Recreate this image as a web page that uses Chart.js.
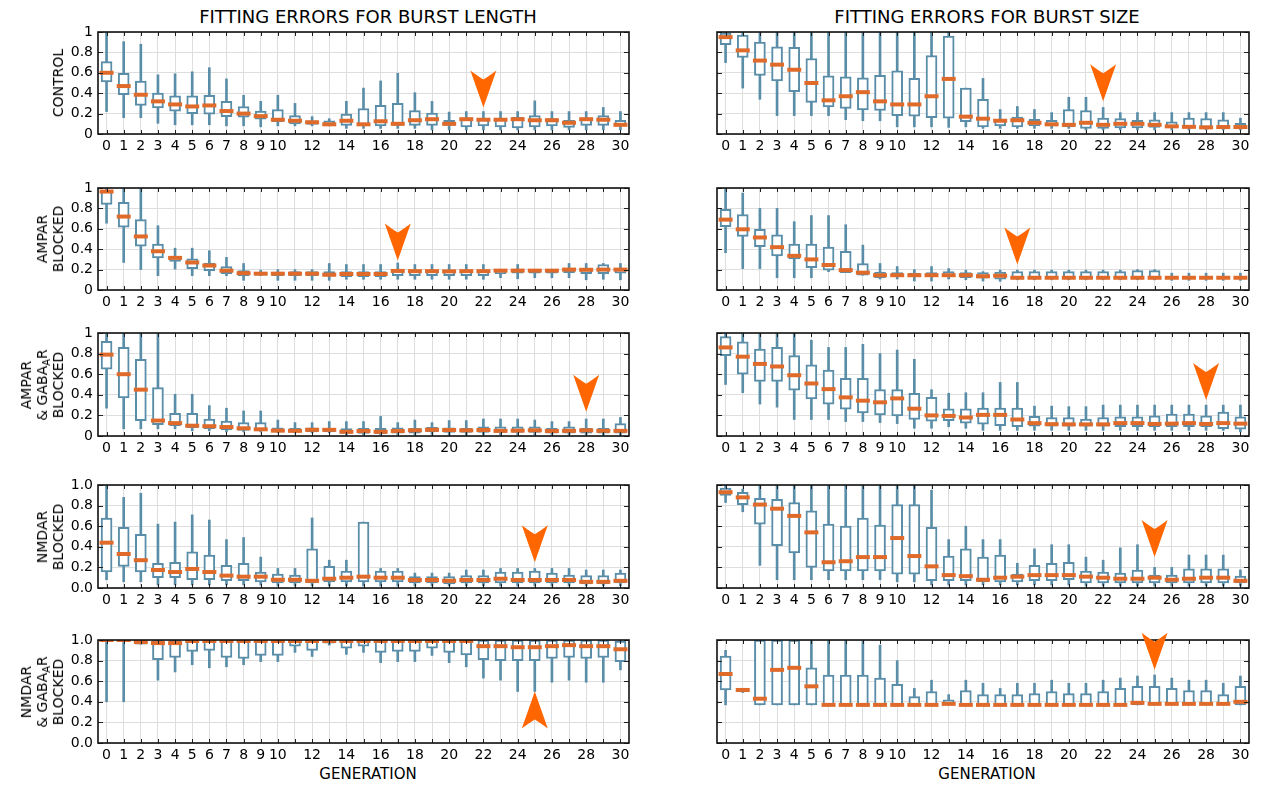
<!DOCTYPE html>
<html>
<head>
<meta charset="utf-8">
<script src="https://cdn.jsdelivr.net/npm/chart.js@4.4.1/dist/chart.umd.min.js"></script>
<style>
  body { margin: 0; background: #fff; font-family: "DejaVu Sans", sans-serif; color: #000; }
  #page { position: relative; width: 1264px; height: 787px; overflow: hidden; }
  #page canvas { position: absolute; }
  .title { position: absolute; top: 6px; width: 540px; font-size: 18px; line-height: 22px; text-align: center; }
  .xlab { position: absolute; top: 765px; width: 540px; font-size: 15px; line-height: 18px; text-align: center; }
  .ylab { position: absolute; font-size: 14px; line-height: 16px; text-align: center; white-space: nowrap;
          transform: translate(-50%, -50%) rotate(-90deg); }
  .ylab sub { font-size: 10px; vertical-align: -3px; line-height: 0; }
</style>
</head>
<body>
<div id="page">
  <div class="title" style="left:98px">FITTING ERRORS FOR BURST LENGTH</div>
  <div class="title" style="left:717px">FITTING ERRORS FOR BURST SIZE</div>
  <div class="xlab" style="left:98px">GENERATION</div>
  <div class="xlab" style="left:717px">GENERATION</div>
</div>
<script>
const generations = [0, 1, 2, 3, 4, 5, 6, 7, 8, 9, 10, 11, 12, 13, 14, 15, 16, 17, 18, 19, 20,
  21, 22, 23, 24, 25, 26, 27, 28, 29, 30];
const yTicks = [0, 0.2, 0.4, 0.6, 0.8, 1];

// one entry per generation: [min, q1, median, q3, max]
const controlLength = [
  [.22, .51, .60, .71, 1], [.16, .385, .47, .595, .905], [.16, .28, .385, .52, .88], [.105, .255, .32, .40, .58],
  [.09, .225, .29, .375, .59], [.09, .20, .27, .375, .61], [.09, .195, .28, .38, .65], [.08, .17, .225, .32, .54],
  [.08, .165, .20, .27, .38], [.07, .145, .175, .225, .32], [.08, .12, .14, .24, .38], [.08, .10, .13, .18, .30],
  [.08, .095, .115, .13, .17], [.08, .085, .095, .13, .15], [.055, .085, .13, .195, .32], [.055, .085, .095, .25, .45],
  [.055, .08, .125, .28, .52], [.055, .085, .10, .30, .595], [.055, .085, .135, .23, .405], [.04, .085, .145, .205, .32],
  [.04, .085, .10, .135, .215], [.04, .07, .145, .155, .22], [.04, .08, .14, .15, .22], [.04, .07, .14, .15, .22],
  [.04, .06, .145, .165, .22], [.04, .07, .135, .18, .325], [.04, .08, .135, .15, .22], [.04, .065, .11, .135, .22],
  [.04, .085, .145, .15, .22], [.04, .085, .14, .18, .26], [.04, .085, .09, .135, .22]
];
const controlSize = [
  [.70, .875, .95, .99, 1], [.45, .75, .82, .97, 1], [.34, .575, .72, .90, 1], [.18, .52, .68, .855, 1],
  [.18, .415, .63, .85, 1], [.18, .31, .50, .74, 1], [.18, .265, .33, .57, 1], [.14, .25, .37, .56, 1],
  [.13, .235, .41, .55, 1], [.13, .23, .32, .575, 1], [.07, .18, .29, .62, 1], [.07, .175, .29, .545, 1],
  [.07, .16, .37, .77, 1], [.065, .155, .54, .96, 1], [.07, .12, .17, .45, .45], [.055, .07, .15, .34, .545],
  [.055, .08, .13, .145, .24], [.055, .07, .135, .165, .27], [.055, .08, .11, .145, .24], [.055, .08, .095, .135, .21],
  [.055, .07, .09, .24, .36], [.04, .055, .11, .23, .36], [.04, .055, .09, .155, .26], [.04, .06, .10, .15, .21],
  [.04, .06, .10, .135, .21], [.04, .065, .09, .14, .21], [.04, .065, .075, .12, .21], [.04, .065, .07, .155, .21],
  [.04, .065, .065, .15, .21], [.04, .065, .068, .14, .21], [.04, .065, .068, .105, .155]
];
const ampaLength = [
  [.655, .84, .965, .975, 1], [.27, .615, .72, .86, 1], [.20, .43, .525, .69, 1], [.14, .315, .38, .45, .63],
  [.205, .28, .315, .33, .41], [.14, .21, .27, .305, .41], [.14, .19, .24, .265, .385], [.14, .16, .19, .23, .32],
  [.095, .14, .165, .19, .26], [.14, .145, .16, .17, .195], [.095, .14, .16, .175, .20], [.095, .14, .16, .18, .20],
  [.095, .14, .16, .18, .20], [.095, .135, .15, .18, .26], [.105, .13, .157, .18, .25], [.105, .13, .157, .18, .25],
  [.105, .13, .157, .18, .25], [.105, .14, .187, .19, .265], [.105, .14, .185, .19, .25], [.105, .14, .185, .19, .25],
  [.105, .14, .183, .19, .25], [.105, .14, .185, .19, .25], [.105, .14, .185, .19, .25], [.12, .16, .19, .195, .20],
  [.11, .165, .19, .205, .25], [.12, .165, .19, .195, .20], [.12, .165, .19, .195, .20], [.12, .17, .20, .21, .26],
  [.10, .16, .198, .215, .26], [.105, .16, .20, .25, .26], [.10, .165, .20, .21, .26]
];
const ampaSize = [
  [.365, .62, .69, .79, 1], [.21, .525, .595, .74, .95], [.21, .425, .515, .595, .80], [.12, .335, .42, .54, .80],
  [.12, .305, .335, .45, .67], [.12, .22, .30, .45, .73], [.18, .195, .245, .42, .73], [.17, .17, .195, .38, .64],
  [.145, .145, .17, .26, .44], [.108, .12, .145, .175, .26], [.108, .13, .145, .17, .23], [.088, .13, .145, .165, .20],
  [.088, .13, .145, .17, .23], [.108, .13, .145, .18, .21], [.10, .12, .145, .17, .195], [.088, .115, .135, .17, .18],
  [.085, .105, .14, .175, .195], [.10, .118, .12, .18, .195], [.10, .118, .12, .18, .195], [.10, .118, .12, .18, .195],
  [.10, .118, .12, .18, .195], [.10, .118, .12, .18, .195], [.10, .118, .12, .18, .195], [.10, .118, .12, .18, .195],
  [.10, .118, .12, .19, .20], [.10, .118, .12, .19, .20], [.095, .118, .12, .122, .165], [.095, .118, .12, .122, .165],
  [.095, .118, .12, .122, .165], [.095, .118, .12, .122, .165], [.095, .118, .12, .122, .165]
];
const ampaGabaLength = [
  [.27, .65, .79, .92, 1], [.07, .37, .60, .86, 1], [.07, .15, .45, .745, 1], [.07, .11, .15, .47, 1],
  [.07, .10, .125, .22, .405], [.05, .08, .10, .22, .405], [.05, .07, .095, .165, .295], [.04, .06, .087, .145, .27],
  [.04, .055, .075, .13, .243], [.04, .055, .065, .13, .243], [.032, .04, .052, .08, .155], [.03, .04, .05, .075, .13],
  [.03, .04, .06, .08, .13], [.03, .04, .06, .075, .14], [.01, .025, .041, .072, .14], [.01, .025, .048, .075, .14],
  [.01, .022, .041, .075, .19], [.01, .028, .048, .08, .13], [.01, .028, .055, .075, .155], [.015, .04, .06, .085, .13],
  [.01, .035, .058, .08, .15], [.01, .035, .055, .075, .15], [.01, .035, .058, .09, .165], [.01, .035, .05, .09, .165],
  [.01, .035, .052, .09, .165], [.01, .035, .055, .09, .155], [.01, .028, .048, .075, .14], [.01, .028, .05, .09, .14],
  [.01, .028, .055, .075, .165], [.01, .028, .05, .075, .165], [.01, .028, .05, .12, .18]
];
const ampaGabaSize = [
  [.50, .78, .86, .965, 1], [.42, .60, .77, .915, 1], [.31, .53, .70, .845, 1], [.28, .53, .675, .86, 1],
  [.16, .445, .59, .78, 1], [.16, .36, .51, .69, .93], [.16, .31, .455, .64, .86], [.14, .26, .375, .56, .86],
  [.14, .225, .343, .56, .89], [.13, .205, .327, .45, .80], [.12, .195, .365, .45, .835], [.075, .16, .265, .415, .745],
  [.075, .145, .20, .375, .45], [.09, .15, .195, .265, .415], [.075, .125, .18, .265, .42], [.055, .115, .205, .27, .42],
  [.055, .10, .205, .27, .52], [.055, .09, .16, .27, .52], [.055, .095, .125, .19, .29], [.055, .095, .115, .18, .29],
  [.055, .095, .113, .18, .285], [.055, .095, .113, .165, .285], [.055, .095, .113, .18, .30], [.055, .09, .125, .185, .30],
  [.055, .09, .125, .185, .30], [.055, .09, .117, .197, .30], [.055, .09, .12, .214, .30], [.055, .09, .125, .214, .30],
  [.055, .09, .117, .197, .30], [.055, .072, .125, .233, .30], [.04, .067, .12, .185, .30]
];
const nmdaLength = [
  [.08, .155, .44, .68, 1], [.06, .21, .33, .59, .88], [.06, .155, .27, .52, .92], [.03, .10, .175, .24, .62],
  [.03, .10, .155, .25, .64], [.03, .08, .185, .35, .71], [.03, .08, .155, .32, .66], [.03, .07, .12, .22, .47],
  [.03, .07, .11, .24, .49], [.03, .06, .11, .155, .30], [.02, .05, .08, .135, .19], [.02, .05, .08, .125, .19],
  [.02, .05, .07, .38, .68], [.02, .06, .09, .21, .27], [.02, .06, .10, .165, .27], [.02, .06, .11, .64, .64],
  [.02, .06, .10, .165, .19], [.02, .06, .10, .165, .19], [.02, .05, .078, .11, .145], [.02, .05, .078, .11, .145],
  [.02, .04, .07, .11, .145], [.02, .05, .078, .12, .175], [.02, .05, .078, .12, .175], [.02, .05, .09, .155, .19],
  [.02, .05, .078, .155, .19], [.02, .05, .078, .165, .19], [.02, .05, .078, .145, .19], [.02, .05, .078, .125, .19],
  [.02, .04, .06, .12, .175], [.02, .04, .06, .12, .175], [.02, .05, .07, .145, .175]
];
const nmdaSize = [
  [.83, .90, .93, .97, 1], [.74, .81, .88, .93, .96], [.22, .62, .81, .87, 1], [.08, .41, .77, .86, 1],
  [.08, .34, .70, .83, 1], [.08, .20, .54, .75, 1], [.08, .165, .25, .62, 1], [.08, .165, .26, .60, 1],
  [.08, .165, .30, .68, 1], [.08, .165, .30, .61, 1], [.06, .135, .485, .81, 1], [.06, .135, .31, .81, 1],
  [.03, .07, .21, .59, .95], [.03, .07, .125, .31, .47], [.03, .07, .115, .38, .60], [.03, .06, .08, .30, .47],
  [.03, .06, .10, .32, .47], [.03, .06, .11, .135, .24], [.03, .07, .125, .22, .38], [.03, .07, .125, .24, .42],
  [.03, .08, .125, .25, .42], [.02, .05, .11, .165, .30], [.02, .05, .10, .155, .27], [.02, .05, .09, .145, .39],
  [.02, .05, .09, .175, .42], [.02, .05, .10, .125, .20], [.02, .05, .08, .125, .20], [.02, .05, .09, .185, .32],
  [.02, .05, .10, .185, .32], [.02, .05, .10, .185, .32], [.02, .05, .07, .115, .175]
];
const nmdaGabaLength = [
  [.40, .99, 1, 1, 1], [.40, .99, 1, 1, 1], [.96, .96, .98, 1, 1], [.61, .81, .97, 1, 1],
  [.69, .83, .97, 1, 1], [.76, .89, .99, 1, 1], [.73, .90, .99, 1, 1], [.74, .83, .99, 1, 1],
  [.76, .82, .99, 1, 1], [.79, .85, .99, 1, 1], [.79, .85, .99, 1, 1], [.88, .94, .99, 1, 1],
  [.84, .90, .99, 1, 1], [.95, .97, .99, 1, 1], [.86, .92, .99, 1, 1], [.88, .94, .99, 1, 1],
  [.78, .88, .99, 1, 1], [.79, .89, .99, 1, 1], [.79, .89, .99, 1, 1], [.85, .92, .99, 1, 1],
  [.78, .88, .99, 1, 1], [.74, .855, .99, 1, 1], [.63, .81, .94, 1, 1], [.61, .80, .94, 1, 1],
  [.50, .80, .93, 1, 1], [.50, .80, .93, 1, 1], [.59, .82, .94, 1, 1], [.61, .83, .95, 1, 1],
  [.59, .82, .94, 1, 1], [.59, .83, .94, 1, 1], [.71, .79, .91, .99, 1]
];
const nmdaGabaSize = [
  [.37, .515, .67, .845, .90], [.49, .495, .515, .525, .53], [.37, .37, .43, 1, 1], [.37, .37, .71, 1, 1],
  [.37, .37, .73, 1, 1], [.37, .37, .55, .73, 1], [.37, .37, .37, .66, 1], [.37, .37, .37, .66, 1],
  [.37, .37, .37, .66, 1], [.37, .37, .37, .63, .95], [.37, .37, .37, .57, .80], [.37, .37, .37, .45, .53],
  [.37, .37, .37, .50, .61], [.37, .37, .38, .42, .47], [.37, .37, .37, .51, .61], [.37, .37, .37, .47, .58],
  [.37, .37, .37, .47, .53], [.37, .37, .37, .47, .58], [.37, .37, .37, .48, .58], [.37, .37, .37, .50, .61],
  [.37, .37, .37, .48, .58], [.37, .37, .37, .48, .58], [.37, .37, .37, .50, .61], [.37, .37, .37, .53, .63],
  [.37, .37, .39, .55, .65], [.37, .37, .38, .55, .66], [.37, .37, .38, .53, .63], [.37, .37, .38, .51, .61],
  [.37, .37, .38, .51, .61], [.37, .37, .38, .47, .58], [.37, .37, .40, .55, .65]
];

// highlighted generation per panel (tip of the orange marker)
const markerGen = [22, 22, 17, 17, 28, 28, 25, 25, 25, 25];
const markerTip = [0.26, 0.32, 0.29, 0.25, 0.235, 0.35, 0.25, 0.30, 0.50, 0.71];
const markerUp = [false, false, false, false, false, false, false, false, true, false];

const rowLabels = [
  ['CONTROL'],
  ['AMPAR', 'BLOCKED'],
  ['AMPAR', '&amp; GABA<sub>A</sub>R', 'BLOCKED'],
  ['NMDAR', 'BLOCKED'],
  ['NMDAR', '&amp; GABA<sub>A</sub>R', 'BLOCKED']
];

const panelStats = [controlLength, controlSize, ampaLength, ampaSize, ampaGabaLength, ampaGabaSize,
  nmdaLength, nmdaSize, nmdaGabaLength, nmdaGabaSize];

const rowTop = [32, 188, 333, 485, 640];
const rowHeight = [102, 102, 103, 103, 103];
const BOX = '#5a8ea8';
const MEDIAN = '#e06a2a';
const MARKER = '#ff6600';

Chart.defaults.font.family = '"DejaVu Sans", sans-serif';
Chart.defaults.font.size = 14;
Chart.defaults.color = '#000';

const framePlugin = {
  id: 'frame',
  afterDraw(chart, args, opts) {
    const { ctx, chartArea: a, scales: { x, y } } = chart;
    ctx.save();
    // inward tick marks on all four sides
    ctx.strokeStyle = '#222';
    ctx.lineWidth = 1;
    ctx.beginPath();
    x.ticks.forEach(t => {
      const px = Math.round(x.getPixelForValue(t.value)) + 0.5;
      ctx.moveTo(px, a.top); ctx.lineTo(px, a.top + 4);
      ctx.moveTo(px, a.bottom); ctx.lineTo(px, a.bottom - 4);
    });
    y.ticks.forEach(t => {
      const py = Math.round(y.getPixelForValue(t.value)) + 0.5;
      ctx.moveTo(a.left, py); ctx.lineTo(a.left + 5, py);
      ctx.moveTo(a.right, py); ctx.lineTo(a.right - 5, py);
    });
    ctx.stroke();
    ctx.strokeStyle = '#111';
    ctx.lineWidth = 1.6;
    ctx.strokeRect(a.left, a.top, a.right - a.left, a.bottom - a.top);

    // orange arrowhead pointing at the chosen generation
    const px = x.getPixelForValue(opts.gen);
    const py = y.getPixelForValue(opts.tip);
    const s = opts.up ? -1 : 1;
    ctx.fillStyle = MARKER;
    ctx.beginPath();
    ctx.moveTo(px, py);
    ctx.lineTo(px + 13, py - s * 37);
    ctx.quadraticCurveTo(px + 5, py - s * 31, px, py - s * 28);
    ctx.quadraticCurveTo(px - 5, py - s * 31, px - 13, py - s * 37);
    ctx.closePath();
    ctx.fill();
    ctx.restore();
  }
};

function fmtY(v, decimals) {
  if (!decimals && (v === 0 || v === 1)) return String(v);
  return v.toFixed(1);
}

const page = document.getElementById('page');

panelStats.forEach((stats, i) => {
  const row = Math.floor(i / 2);
  const col = i % 2;
  const left = col === 0 ? 40 : 660;
  const axisW = col === 0 ? 58 : 57;
  const canvas = document.createElement('canvas');
  canvas.width = 600;
  canvas.height = rowHeight[row] + 14 + 26;
  canvas.style.left = left + 'px';
  canvas.style.top = (rowTop[row] - 14) + 'px';
  page.appendChild(canvas);

  const whiskers = generations.map((g, k) => ({ x: g, y: [stats[k][0], stats[k][4]] }));
  const boxes = generations.map((g, k) => ({ x: g, y: [stats[k][1], stats[k][3]] }));
  const medians = generations.map((g, k) => ({ x: g, y: stats[k][2] }));
  const decimals = row >= 3;

  new Chart(canvas, {
    type: 'bar',
    data: {
      datasets: [
        {
          type: 'line', data: medians, showLine: false, order: 0,
          pointStyle: 'line', pointRadius: 7, pointHoverRadius: 7,
          pointBorderWidth: 4, pointHoverBorderWidth: 4,
          pointBorderColor: MEDIAN, borderColor: MEDIAN
        },
        {
          data: boxes, order: 1, grouped: false, barThickness: 11,
          backgroundColor: '#ffffff', borderColor: BOX, borderWidth: 2, borderSkipped: false
        },
        {
          data: whiskers, order: 2, grouped: false, barThickness: 2,
          backgroundColor: BOX, borderWidth: 0
        }
      ]
    },
    options: {
      responsive: false,
      animation: false,
      events: [],
      layout: { padding: { top: 14, right: 4, bottom: 0, left: 0 } },
      plugins: {
        legend: { display: false },
        tooltip: { enabled: false },
        frame: { gen: markerGen[i], tip: markerTip[i], up: markerUp[i] }
      },
      scales: {
        x: {
          type: 'linear', min: -0.5, max: 30.5, offset: false,
          grid: { color: '#dedede', lineWidth: 1, drawTicks: false, offset: false },
          border: { display: false },
          afterBuildTicks: s => { s.ticks = generations.map(v => ({ value: v })); },
          afterFit: s => { s.height = 26; },
          ticks: {
            autoSkip: false, maxRotation: 0, padding: 4,
            callback: v => (v <= 10 || v % 2 === 0) ? String(v) : ''
          }
        },
        y: {
          min: 0, max: 1,
          grid: { color: '#dedede', lineWidth: 1, drawTicks: false },
          border: { display: false },
          afterBuildTicks: s => { s.ticks = yTicks.map(v => ({ value: v })); },
          afterFit: s => { s.width = axisW; },
          ticks: {
            display: col === 0, padding: 5,
            callback: v => fmtY(v, decimals)
          }
        }
      }
    },
    plugins: [framePlugin]
  });

  if (col === 0) {
    const lines = rowLabels[row];
    const lab = document.createElement('div');
    lab.className = 'ylab';
    lab.innerHTML = lines.join('<br>');
    lab.style.left = (58 - (lines.length - 1) * 8) + 'px';
    lab.style.top = (rowTop[row] + rowHeight[row] / 2) + 'px';
    page.appendChild(lab);
  }
});
</script>
</body>
</html>
